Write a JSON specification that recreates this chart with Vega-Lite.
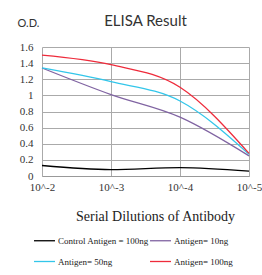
{
  "$schema": "https://vega.github.io/schema/vega-lite/v6.json",
  "autosize": {"type": "none"},
  "padding": {"left": 42, "top": 47, "right": 13, "bottom": 99},
  "width": 207,
  "height": 129,
  "background": "white",
  "title": {
    "text": "ELISA Result",
    "font": "Lato",
    "fontSize": 15,
    "fontWeight": "normal",
    "color": "#333333",
    "anchor": "middle",
    "offset": 0,
    "dy": 12
  },
  "data": {
    "values": [
      {"d": 0, "od": 0.13, "s": "Control Antigen = 100ng"},
      {"d": 1, "od": 0.08, "s": "Control Antigen = 100ng"},
      {"d": 2, "od": 0.105, "s": "Control Antigen = 100ng"},
      {"d": 3, "od": 0.06, "s": "Control Antigen = 100ng"},
      {"d": 0, "od": 1.34, "s": "Antigen= 10ng"},
      {"d": 1, "od": 1.01, "s": "Antigen= 10ng"},
      {"d": 2, "od": 0.73, "s": "Antigen= 10ng"},
      {"d": 3, "od": 0.25, "s": "Antigen= 10ng"},
      {"d": 0, "od": 1.34, "s": "Antigen= 50ng"},
      {"d": 1, "od": 1.17, "s": "Antigen= 50ng"},
      {"d": 2, "od": 0.93, "s": "Antigen= 50ng"},
      {"d": 3, "od": 0.27, "s": "Antigen= 50ng"},
      {"d": 0, "od": 1.5, "s": "Antigen= 100ng"},
      {"d": 1, "od": 1.38, "s": "Antigen= 100ng"},
      {"d": 2, "od": 1.1, "s": "Antigen= 100ng"},
      {"d": 3, "od": 0.28, "s": "Antigen= 100ng"}
    ]
  },
  "mark": {"type": "line", "interpolate": "monotone", "strokeWidth": 1.3},
  "encoding": {
    "x": {
      "field": "d",
      "type": "quantitative",
      "scale": {"domain": [0, 3], "nice": false, "zero": false},
      "axis": {
        "values": [0, 1, 2, 3],
        "labelExpr": "'10^-' + (datum.value + 2)",
        "title": "Serial Dilutions of Antibody",
        "titleFont": "Liberation Serif",
        "titleFontSize": 14,
        "titleFontWeight": "normal",
        "titleColor": "#222222",
        "titleX": 113,
        "titleY": 44,
        "titleBaseline": "alphabetic",
        "labelFont": "Liberation Serif",
        "labelFontSize": 11,
        "labelColor": "#333333",
        "labelPadding": 5,
        "ticks": false,
        "domainColor": "#999999",
        "grid": true,
        "gridColor": "#aaaaaa",
        "labelFlush": false
      }
    },
    "y": {
      "field": "od",
      "type": "quantitative",
      "scale": {"domain": [0, 1.6], "nice": false},
      "axis": {
        "values": [0, 0.2, 0.4, 0.6, 0.8, 1, 1.2, 1.4, 1.6],
        "format": "~g",
        "title": "O.D.",
        "titleAngle": 0,
        "titleX": -25,
        "titleY": -21,
        "titleAlign": "left",
        "titleBaseline": "alphabetic",
        "titleFont": "Lato",
        "titleFontSize": 11,
        "titleFontWeight": "normal",
        "titleColor": "#333333",
        "labelFont": "Liberation Serif",
        "labelFontSize": 11,
        "labelColor": "#333333",
        "labelPadding": 9,
        "ticks": false,
        "domain": false,
        "grid": true,
        "gridColor": "#aaaaaa"
      }
    },
    "color": {
      "field": "s",
      "type": "nominal",
      "sort": ["Control Antigen = 100ng", "Antigen= 10ng", "Antigen= 50ng", "Antigen= 100ng"],
      "scale": {
        "domain": ["Control Antigen = 100ng", "Antigen= 10ng", "Antigen= 50ng", "Antigen= 100ng"],
        "range": ["#000000", "#8064A2", "#33C6EA", "#EE2B3B"]
      },
      "legend": {
        "orient": "none",
        "legendX": -9,
        "legendY": 182,
        "direction": "horizontal",
        "columns": 2,
        "title": null,
        "symbolType": "stroke",
        "symbolSize": 440,
        "symbolStrokeWidth": 1.3,
        "labelFont": "Liberation Serif",
        "labelFontSize": 9,
        "labelColor": "#222222",
        "labelOffset": 2,
        "columnPadding": -2,
        "rowPadding": 4
      }
    }
  },
  "config": {
    "view": {"stroke": null}
  }
}
